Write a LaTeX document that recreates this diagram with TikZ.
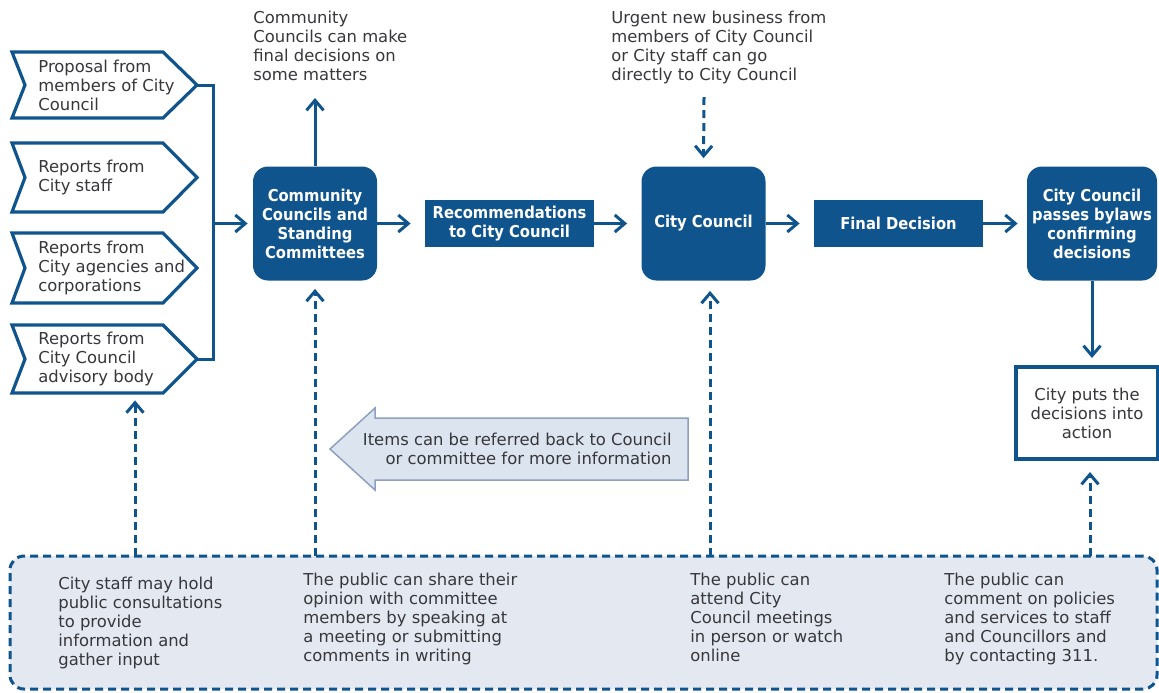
\documentclass[tikz,border=0pt]{standalone}
\usepackage{fontspec}
\setmainfont{DejaVu Sans}
\newfontfamily\boxfont{DejaVu Sans Condensed}
\usepackage{tikz}
\usetikzlibrary{arrows.meta}
\usepackage{color}
\definecolor{cityblue}{RGB}{15,84,140}
\definecolor{txtgray}{RGB}{55,55,60}
\definecolor{panelfill}{RGB}{228,233,241}
\definecolor{referfill}{RGB}{220,228,239}
\definecolor{referline}{RGB}{140,160,192}

\tikzset{
  body/.style={font=\fontsize{8.2}{9.5}\selectfont, text=txtgray, inner sep=0pt, align=left, anchor=north west},
  srcbox/.style={body, anchor=west, minimum height=34pt},
  srcline/.style={draw=cityblue, line width=1.6pt, fill=white},
  blockbox/.style={fill=cityblue, text=white, font=\boxfont\bfseries\fontsize{8.2}{9.5}\selectfont, align=center, inner sep=0pt},
  roundbox/.style={blockbox, rounded corners=7.5pt, minimum width=62pt, minimum height=57pt},
  flatbox/.style={blockbox, minimum width=84.5pt, minimum height=23.5pt},
  actionbox/.style={body, anchor=center, align=center, draw=cityblue, line width=2pt, fill=white, minimum width=71pt, minimum height=46pt},
  panel/.style={draw=cityblue, fill=panelfill, line width=1.5pt, dash pattern=on 4pt off 2.5pt, rounded corners=7pt, minimum width=573.5pt, minimum height=66.5pt, inner sep=0pt},
  flow/.style={draw=cityblue, line width=1.5pt, -{Straight Barb[length=5pt,width=8.5pt]}},
  input/.style={flow, dash pattern=on 4pt off 2.5pt},
}

\begin{document}
\begin{tikzpicture}[x=0.5pt,y=0.5pt,yscale=-1,xscale=1]
\useasboundingbox (0,0) rectangle (1159,692);

%Shape: Dashed panel [id:panel]
\node[panel] (panel) at (583.5,622.5) {};

%Shape: Chevron [id:src1]
\draw[srcline] (12,52) -- (163,52) -- (197,85) -- (163,118) -- (12,118) -- (25,85) -- cycle;
%Shape: Chevron [id:src2]
\draw[srcline] (12,143) -- (163,143) -- (197,177.5) -- (163,212) -- (12,212) -- (25,177.5) -- cycle;
%Shape: Chevron [id:src3]
\draw[srcline] (12,233) -- (163,233) -- (197,268) -- (163,303) -- (12,303) -- (25,268) -- cycle;
%Shape: Chevron [id:src4]
\draw[srcline] (12,325) -- (163,325) -- (197,359) -- (163,393) -- (12,393) -- (25,359) -- cycle;
\coordinate (tip1) at (197,85);
\coordinate (tip4) at (197,359);

% Text Node
\node[srcbox] (src1) at (38,85) {Proposal from\\members of City\\Council};
% Text Node
\node[srcbox] (src2) at (38,177.5) {Reports from\\City staff};
% Text Node
\node[srcbox] (src3) at (38,268) {Reports from\\City agencies and\\corporations};
% Text Node
\node[srcbox] (src4) at (38,359) {Reports from\\City Council\\advisory body};

%Shape: Boxes
\node[roundbox] (ccs) at (315,223.5) {Community\\Councils and\\Standing\\Committees};
\node[flatbox] (recs) at (509.5,223.5) {Recommendations\\to City Council};
\node[roundbox] (council) at (703.5,223.5) {City Council};
\node[flatbox] (final) at (898.5,223.5) {Final Decision};
\node[roundbox, minimum width=65pt] (bylaws) at (1092,223.5) {City Council\\passes bylaws\\confirming\\decisions};
\node[actionbox] (action) at (1087,413) {City puts the\\decisions into\\action};

%Straight Lines [id:bus]
\coordinate (busT) at (213,85);
\coordinate (busB) at (213,359);
\coordinate (busM) at (213,223.5);
\draw[cityblue, line width=1.5pt] (tip1) -- (busT) -- (busB) -- (tip4);
\draw[flow, shorten >=2.5pt] (busM) -- (ccs.west);
\draw[flow, shorten >=7pt] (ccs.east) -- (recs.west);
\draw[flow, shorten >=7pt] (recs.east) -- (council.west);
\draw[flow, shorten >=7pt] (council.east) -- (final.west);
\draw[flow, shorten >=4.5pt] (final.east) -- (bylaws.west);
\draw[flow, shorten >=3.5pt] (bylaws.south) -- (bylaws.south |- action.north);

% Text Node
\node[body] (ccnote) at (253,11) {Community\\Councils can make\\final decisions on\\some matters};
\coordinate (ccup) at (315,98);
\draw[flow] (ccs.north) -- (ccup);

% Text Node
\node[body] (urgent) at (611,11) {Urgent new business from\\members of City Council\\or City staff can go\\directly to City Council};
\coordinate (urgentfrom) at (704,97);
\draw[input, shorten >=4pt] (urgentfrom) -- (council.north);

%Shape: Left Arrow [id:refer]
\draw[fill=referfill, draw=referline, line width=0.75pt] (330,449) -- (375,408) -- (375,418) -- (688,418) -- (688,480) -- (375,480) -- (375,490) -- cycle;
% Text Node
\node[body, anchor=north east, align=right] (refer) at (672,433) {Items can be referred back to Council\\or committee for more information};

%Dashed Lines [id:inputs]
\coordinate (in1) at (135,556);
\coordinate (in2) at (315,556);
\coordinate (in3) at (710,556);
\coordinate (in4) at (1090,556);
\draw[input, shorten >=3.5pt] (in1) -- (in1 |- src4.south);
\draw[input, shorten >=4pt] (in2) -- (ccs.south);
\draw[input, shorten >=5pt] (in3) -- (in3 |- council.south);
\draw[input, shorten >=5.5pt] (in4) -- (in4 |- action.south);

% Text Node
\node[body] (staffnote) at (58,577) {City staff may hold\\public consultations\\to provide\\information and\\gather input};
% Text Node
\node[body] (sharenote) at (303,573) {The public can share their\\opinion with committee\\members by speaking at\\a meeting or submitting\\comments in writing};
% Text Node
\node[body] (attendnote) at (690,573) {The public can\\attend City\\Council meetings\\in person or watch\\online};
% Text Node
\node[body] (commentnote) at (944,573) {The public can\\comment on policies\\and services to staff\\and Councillors and\\by contacting 311.};

\end{tikzpicture}
\end{document}
